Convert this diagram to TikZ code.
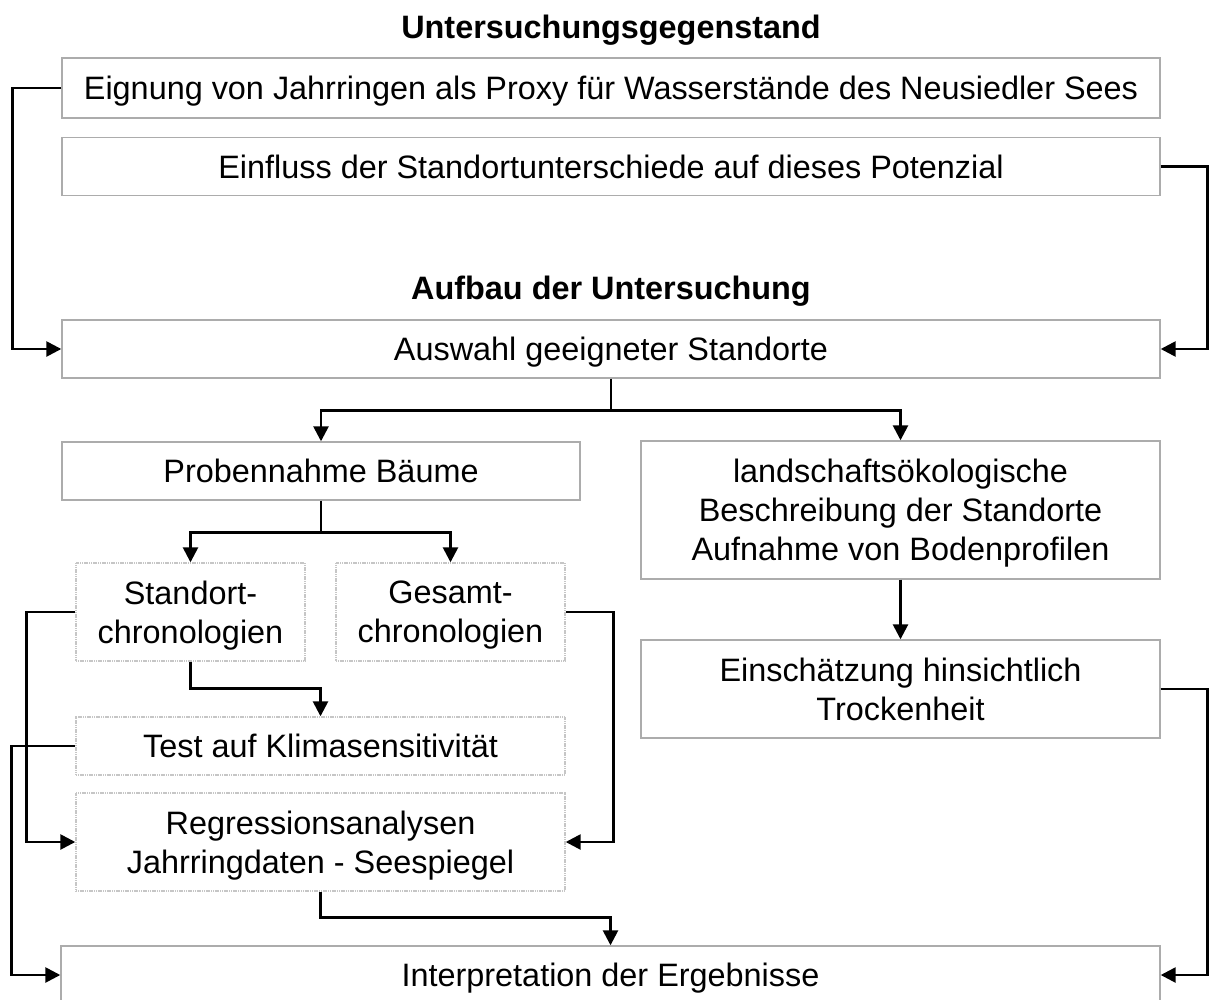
\documentclass[tikz,border=0pt]{standalone}
\usepackage{fontspec}
\setmainfont{Liberation Sans}
\usetikzlibrary{arrows.meta,positioning}

\begin{document}
\begin{tikzpicture}[x=0.5pt,y=-0.5pt,
  font=\fontsize{16.2pt}{19.5pt}\selectfont,
  box/.style={draw=gray!65,line width=0.7pt,rectangle,inner sep=0pt,align=center,text depth=0pt},
  lbox/.style={box,draw=gray!45,dash pattern=on 0.6pt off 0.3pt},
  head/.style={font=\fontsize{16.2pt}{19.5pt}\selectfont\bfseries},
  pfeil/.style={line width=1.3pt,-{Triangle[length=7.5pt,width=7.5pt]}},
  linie/.style={line width=1.3pt}]
  \useasboundingbox (0,0) rectangle (1209,1000);

  \node[head]                                          (titel1)  at (611,30)  {Untersuchungsgegenstand};
  \node[box,minimum width=549pt,minimum height=30pt]   (eignung) at (611,88)  {Eignung von Jahrringen als Proxy für Wasserstände des Neusiedler Sees};
  \node[box,minimum width=549pt,minimum height=29pt]   (einfluss) [below=9pt of eignung] {Einfluss der Standortunterschiede auf dieses Potenzial};
  \node[head]                                          (titel2)  at (611,291) {Aufbau der Untersuchung};
  \node[box,minimum width=549pt,minimum height=29pt]   (auswahl) at (611,349) {Auswahl geeigneter Standorte};

  \node[box,minimum width=259pt,minimum height=29pt]   (proben)  at (321,471) {Probennahme Bäume};
  \node[box,minimum width=259.5pt,minimum height=69pt] (landschaft) at (900.5,510) {landschaftsökologische\\Beschreibung der Standorte\\Aufnahme von Bodenprofilen};
  \node[lbox,minimum width=114.5pt,minimum height=49pt] (standort) at (190.5,612) {Standort-\\chronologien};
  \node[lbox,minimum width=114.5pt,minimum height=49pt] (gesamt)  at (450.5,612) {Gesamt-\\chronologien};
  \node[box,minimum width=259.5pt,minimum height=49pt] (trocken) at (900.5,689) {Einschätzung hinsichtlich\\Trockenheit};
  \node[lbox,minimum width=244.5pt,minimum height=29pt] (test)    at (320.5,746) {Test auf Klimasensitivität};
  \node[lbox,minimum width=244.5pt,minimum height=49pt] (regress) at (320.5,842) {Regressionsanalysen\\Jahrringdaten - Seespiegel};
  \node[box,minimum width=549.5pt,minimum height=29pt] (interp)  at (610.5,975) {Interpretation der Ergebnisse};

  % Fragestellung -> Auswahl
  \draw[pfeil] (eignung.west) -- ++(-49,0) |- (auswahl.west);
  \draw[pfeil] (einfluss.east) -- ++(47,0) |- (auswahl.east);

  % Verzweigungen
  \draw[linie] (auswahl.south) -- ++(0,32) coordinate (k1);
  \draw[pfeil] (k1) -| (proben.north);
  \draw[pfeil] (k1) -| (landschaft.north);
  \draw[linie] (proben.south) -- ++(0,32) coordinate (k2);
  \draw[pfeil] (k2) -| (standort.north);
  \draw[pfeil] (k2) -| (gesamt.north);
  \draw[pfeil] (landschaft.south) -- (trocken.north);

  % Chronologien
  \draw[pfeil] (standort.south) -- ++(0,27) -| (test.north);
  \draw[pfeil] (standort.west) -- ++(-49,0) |- (regress.west);
  \draw[pfeil] (gesamt.east) -- ++(48,0) |- (regress.east);

  % Interpretation
  \draw[pfeil] (test.west) -- ++(-64,0) |- (interp.west);
  \draw[pfeil] (regress.south) -- ++(0,26) -| (interp.north);
  \draw[pfeil] (trocken.east) -- ++(47,0) |- (interp.east);
\end{tikzpicture}
\end{document}
